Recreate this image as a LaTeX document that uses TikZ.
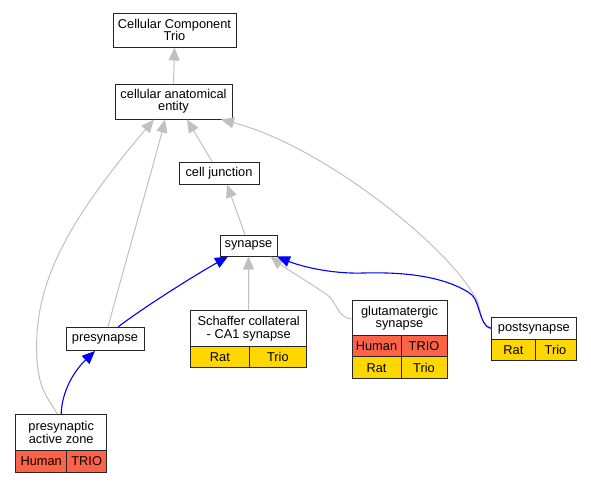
\documentclass[tikz,border=0pt]{standalone}
\usepackage{fontspec}
\setmainfont{Liberation Sans}
\usetikzlibrary{arrows.meta}
\definecolor{edgegray}{HTML}{C0C0C0}
\definecolor{hum}{HTML}{FF6347}
\definecolor{rat}{HTML}{FFD700}
\begin{document}
\begin{tikzpicture}[x=1pt,y=-1pt,
  box/.style={draw=black!85, line width=1pt, fill=white, inner sep=0pt, align=center,
    font=\fontsize{12.8}{12.2}\selectfont},
  cell/.style={box, minimum height=21.5pt},
  hcell/.style={cell, fill=hum},
  rcell/.style={cell, fill=rat},
  isa/.style={draw=edgegray, line width=1pt, -{Triangle[length=13pt,width=11pt]}, edgegray},
  partof/.style={draw=blue, line width=1.1pt, -{Triangle[length=13pt,width=11pt]}, blue}]
\useasboundingbox (0,0) rectangle (591,483);
% nodes
\node[box, minimum width=123pt, minimum height=34pt] (cct) at (174.5,30) {Cellular Component\\Trio};
\node[box, minimum width=117pt, minimum height=35pt] (cae) at (173.5,101.5) {cellular anatomical\\entity};
\node[box, minimum width=80pt, minimum height=22pt] (cj) at (219,173) {cell junction};
\node[box, minimum width=57pt, minimum height=21pt] (syn) at (248.5,245.5) {synapse};
\node[box, minimum width=78pt, minimum height=23pt] (pre) at (105,339) {presynapse};
% Schaffer
\node[box, minimum width=116pt, minimum height=36pt] (sch) at (248.7,328.7) {Schaffer collateral\\- CA1 synapse};
\node[rcell, minimum width=58.3pt] (schr) at (219.85,357.2) {Rat};
\node[rcell, minimum width=57.7pt] (scht) at (277.85,357.2) {Trio};
% glutamatergic
\node[box, minimum width=95pt, minimum height=35.7pt] (glu) at (399.5,318) {glutamatergic\\synapse};
\node[hcell, minimum width=49pt] (gluh) at (376.5,346.2) {Human};
\node[hcell, minimum width=46pt] (glut) at (424,346.2) {TRIO};
\node[rcell, minimum width=49pt] (glur) at (376.5,367.7) {Rat};
\node[rcell, minimum width=46pt] (glurt) at (424,367.7) {Trio};
% postsynapse
\node[box, minimum width=84.3pt, minimum height=22pt] (post) at (533.85,328.3) {postsynapse};
\node[rcell, minimum width=43.3pt] (postr) at (513.35,350) {Rat};
\node[rcell, minimum width=41pt] (postt) at (555.5,350) {Trio};
% presynaptic active zone
\node[box, minimum width=91pt, minimum height=36.4pt] (paz) at (61.2,432.5) {presynaptic\\active zone};
\node[hcell, minimum width=51pt] (pazh) at (41.2,461.3) {Human};
\node[hcell, minimum width=40pt] (pazt) at (86.7,461.3) {TRIO};
% is_a edges (gray)
\draw[isa] (cae.north) -- (cct.south);
\draw[isa] ([xshift=-7pt]cj.north) -- ([xshift=13.5pt]cae.south);
\draw[isa] ([xshift=3pt]pre.north) .. controls (130,245) and (155,160) .. ([xshift=-8.5pt]cae.south);
\draw[isa] ([xshift=-4pt]paz.north) .. controls (50,400) and (39,392) .. (37,360)
   .. controls (33,290) and (60,230) .. ([xshift=-19.5pt]cae.south);
\draw[isa] ([xshift=-3.5pt]syn.north) -- ([xshift=8pt]cj.south);
\draw[isa] (sch.north) -- (syn.south);
\draw[isa] ([yshift=-1pt]glu.west) .. controls (336,317) and (338,302) .. (326,294)
   .. controls (310,283) and (285,268) .. ([xshift=22pt]syn.south);
\draw[isa] ([yshift=-1pt]post.west) .. controls (479,327) and (482,302) .. (472,292)
   .. controls (440,240) and (320,145) .. ([xshift=47.5pt]cae.south);
% part_of edges (blue)
\draw[partof] (paz.north) .. controls (62,390) and (75,370) .. ([xshift=-10pt]pre.south);
\draw[partof] ([xshift=13pt]pre.north) .. controls (140,310) and (190,278) .. ([xshift=-20.5pt]syn.south);
\draw[partof] (post.west) .. controls (478,326) and (481,298) .. (468,292)
   .. controls (440,275) and (400,272) .. (363,273)
   .. controls (330,274) and (300,266) .. ([xshift=28.5pt]syn.south);
\end{tikzpicture}
\end{document}
